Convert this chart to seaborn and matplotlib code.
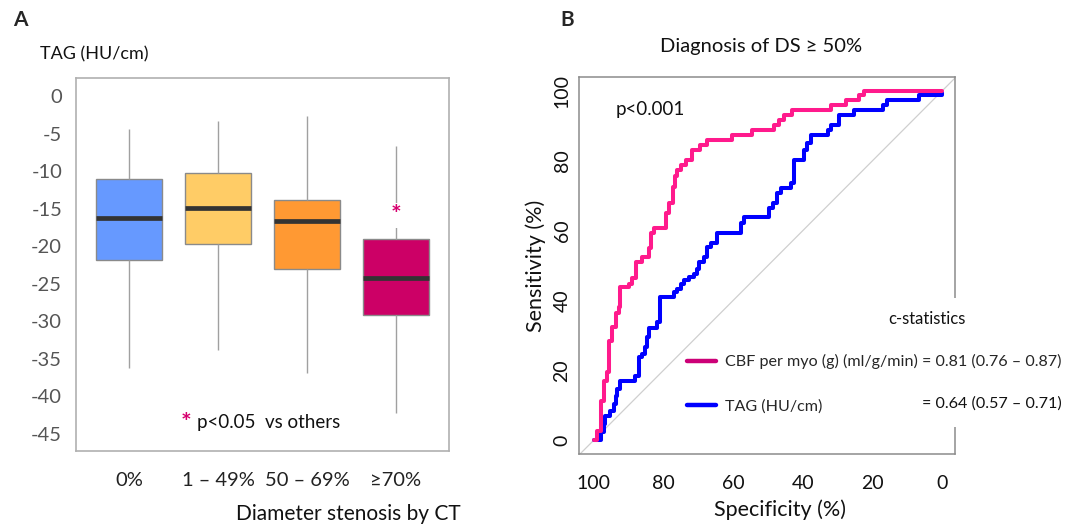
import numpy as np
import pandas as pd
import seaborn as sns
import matplotlib.pyplot as plt
from matplotlib.lines import Line2D
from matplotlib.patches import Rectangle

# --- data: panel A, five-number summaries of TAG per stenosis group ---
categories = ['0%', '1 – 49%', '50 – 69%', '≥70%']
whisk_lo = [-36.3, -33.8, -36.9, -42.3]
q1 = [-21.9, -19.7, -23.1, -29.2]
median = [-16.3, -14.9, -16.6, -24.2]
q3 = [-11.1, -10.3, -13.9, -19.1]
whisk_hi = [-4.4, -3.3, -2.6, -6.7]
box_colors = ['#6699FF', '#FFCC66', '#FF9933', '#CC0066']

# --- data: panel B, ROC curves (specificity %, sensitivity %) ---
cbf_spec = [100, 99.1, 98.1, 97.2, 96.2, 95.7, 94.8, 93.8, 92.9, 92.4, 90.0, 89.0,
            87.8, 86.1, 84.2, 83.7, 82.8, 79.4, 78.5, 77.3, 76.7, 76.1, 75.1, 73.7,
            71.8, 69.4, 67.4, 60.3, 54.5, 48.3, 46.9, 45.4, 43.0, 32.0, 27.7, 23.8,
            22.4, 0]
cbf_sens = [0, 2.7, 11.3, 17.0, 19.4, 28.5, 32.4, 36.3, 38.1, 43.9, 44.8, 46.3,
            51.0, 52.5, 54.9, 59.2, 60.8, 64.9, 67.8, 72.6, 75.5, 77.4, 78.9, 80.3,
            83.1, 84.6, 86.0, 87.4, 88.9, 90.3, 91.8, 93.2, 94.6, 96.1, 97.5, 98.9,
            100, 100]
tag_spec = [100, 98.1, 97.2, 96.7, 95.3, 94.3, 93.8, 93.3, 92.4, 88.1, 87.1, 86.2,
            85.2, 84.7, 84.2, 81.8, 80.9, 77.0, 76.1, 75.1, 74.2, 72.7, 71.3, 70.3,
            69.9, 68.4, 67.4, 66.5, 64.6, 57.9, 56.9, 49.7, 48.7, 47.3, 46.3, 43.5,
            42.5, 39.7, 38.7, 37.7, 32.9, 32.0, 29.6, 25.3, 17.1, 15.7, 6.6, 0.4, 0]
tag_sens = [0, 2.2, 4.6, 7.0, 8.4, 10.3, 12.7, 14.6, 17.0, 18.2, 23.7, 24.7,
            26.6, 29.5, 32.2, 33.8, 41.0, 42.4, 43.4, 44.8, 45.8, 46.7, 47.7, 49.1,
            51.0, 52.5, 55.3, 56.3, 59.2, 62.1, 64.0, 66.4, 67.8, 70.7, 72.1, 73.6,
            80.3, 83.1, 85.1, 87.4, 88.9, 90.3, 93.2, 94.4, 96.1, 97.3, 98.9, 98.9, 99.5]

# long tables for seaborn
box_df = pd.DataFrame({
    'group': np.repeat(categories, 5),
    'tag': np.column_stack([whisk_lo, q1, median, q3, whisk_hi]).ravel(),
})
roc_df = pd.concat([
    pd.DataFrame({'spec': tag_spec, 'sens': tag_sens, 'marker': 'TAG'}),
    pd.DataFrame({'spec': cbf_spec, 'sens': cbf_sens, 'marker': 'CBF'}),
])

sns.set_theme(style='white')
plt.rcParams['font.family'] = ['Lato', 'DejaVu Sans']
plt.rcParams['axes.unicode_minus'] = False

fig = plt.figure(figsize=(10.83, 5.29), dpi=100)
axA = fig.add_axes([0.0702, 0.1474, 0.3444, 0.7052])
axB = fig.add_axes([0.5346, 0.1418, 0.3472, 0.7127])

# ---------- panel A ----------
sns.boxplot(data=box_df, x='group', y='tag', hue='group', palette=box_colors,
            order=categories, legend=False, whis=(0, 100), width=0.74,
            saturation=1, linecolor='#8a8a8a', linewidth=1, ax=axA,
            medianprops={'color': '#333333', 'linewidth': 3.4},
            whiskerprops={'color': '#a0a0a0', 'linewidth': 1},
            capprops={'linewidth': 0})
axA.set_xlim(-0.6, 3.6)
axA.set_ylim(-47.3, 2.4)
axA.set_yticks(np.arange(0, -46, -5))
axA.set_yticklabels([f'{v}' for v in range(0, -46, -5)])
for s in axA.spines.values():
    s.set_color('#b0b0b0')
    s.set_linewidth(1.2)
axA.tick_params(axis='y', length=3, color='#c0c0c0', labelsize=14.5,
                labelcolor='#555555', pad=7)
axA.tick_params(axis='x', length=3, color='#c0c0c0', labelsize=14.5,
                labelcolor='#222222', pad=12)
axA.set_xlabel('Diameter stenosis by CT', fontsize=15, ha='right', va='center',
               color='#111111')
axA.xaxis.set_label_coords(1.03, -0.169)
axA.set_ylabel('TAG (HU/cm)', fontsize=13, rotation=0, ha='left', va='center',
               color='#111111')
axA.yaxis.set_label_coords(-0.097, 1.062)

axA.text(3, -15.9, '*', ha='center', va='center', fontsize=18, color='#D6006E',
         fontweight='bold', bbox=dict(facecolor='white', edgecolor='none', pad=0.5),
         zorder=5)
axA.text(0.64, -43.6, '*', ha='center', va='center', fontsize=18,
         color='#D6006E', fontweight='bold')
axA.text(0.76, -43.5, 'p<0.05  vs others', ha='left', va='center', fontsize=13.5,
         color='#111111')

fig.text(0.0185, 0.962, 'A', fontsize=15, fontweight='bold', ha='center', va='center')
fig.text(0.5235, 0.962, 'B', fontsize=15, fontweight='bold', ha='center', va='center')

# ---------- panel B ----------
axB.axline((100, 0), (0, 100), color='#cfcfcf', linewidth=0.9, zorder=1)
sns.lineplot(data=roc_df, x='spec', y='sens', hue='marker',
             palette={'TAG': '#0000FF', 'CBF': '#FF1A8C'}, sort=False,
             estimator=None, drawstyle='steps-post', linewidth=2.9,
             legend=False, ax=axB)
axB.set_xlim(104.3, -3.7)
axB.set_ylim(-4, 104)
axB.set_xticks([100, 80, 60, 40, 20, 0])
axB.set_yticks([0, 20, 40, 60, 80, 100])
for s in axB.spines.values():
    s.set_color('#8c8c8c')
    s.set_linewidth(1.1)
axB.tick_params(axis='both', length=3, color='#8c8c8c', labelsize=14,
                labelcolor='#111111')
axB.tick_params(axis='x', pad=12)
axB.tick_params(axis='y', pad=3, labelrotation=90)
for lab in axB.get_yticklabels():
    lab.set_verticalalignment('center')
axB.set_xlabel('Specificity (%)', fontsize=15.5, va='center', color='#111111')
axB.xaxis.set_label_coords(0.535, -0.149)
axB.set_ylabel('Sensitivity (%)', fontsize=15.5, va='center', color='#111111')
axB.yaxis.set_label_coords(-0.114, 0.5)
axB.set_title('Diagnosis of DS ≥ 50%', fontsize=14.5, x=0.484, y=1.058,
              va='center', color='#111111')
axB.text(93.8, 94.6, 'p<0.001', ha='left', va='center', fontsize=13.5,
         color='#111111')

# white patch breaking the right spine behind the legend
axB.add_patch(Rectangle((0.985, 0.072), 0.03, 0.342, transform=axB.transAxes,
                        facecolor='white', edgecolor='none', clip_on=False,
                        zorder=3))
handles = [Line2D([], [], color='#CC0077', linewidth=3.2),
           Line2D([], [], color='#0000FF', linewidth=3.2)]
labels = ['CBF per myo (g) (ml/g/min) = 0.81 (0.76 – 0.87)', 'TAG (HU/cm)']
axB.legend(handles, labels, loc='center left', bbox_to_anchor=(0.287, 0.186),
           frameon=False, borderpad=0, borderaxespad=0, handlelength=1.8,
           handletextpad=0.55, labelspacing=1.85, fontsize=11.6)
axB.text(1.283, 0.135, '= 0.64 (0.57 – 0.71)', transform=axB.transAxes,
         ha='right', va='center', fontsize=11.6, color='#111111')
axB.text(0.926, 0.358, 'c-statistics', transform=axB.transAxes,
         ha='center', va='center', fontsize=12, color='#111111')

fig.savefig('out.png', dpi=100)
